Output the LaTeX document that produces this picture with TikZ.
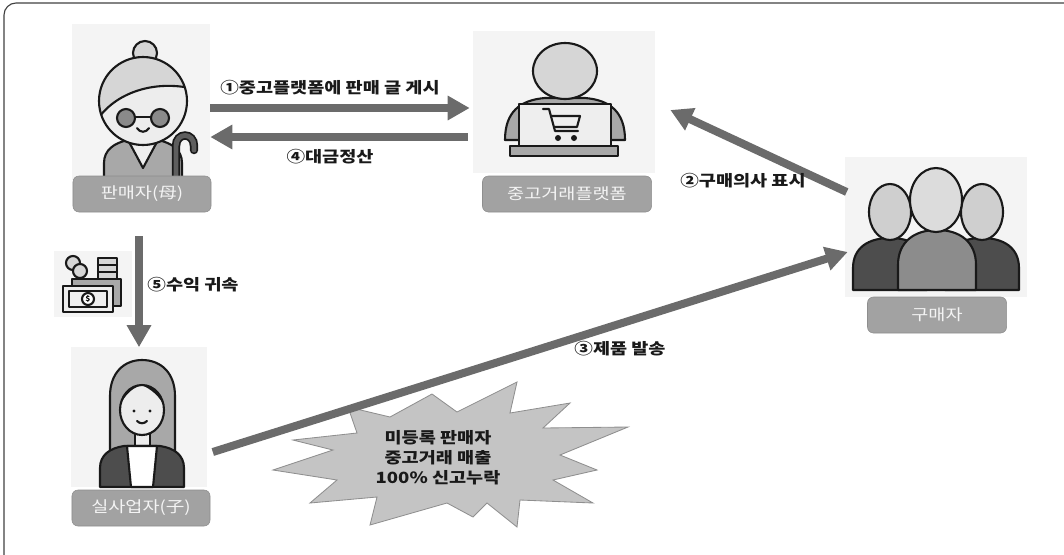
\documentclass[tikz,border=0pt]{standalone}
\usepackage{fontspec}
\setmainfont{Noto Sans CJK KR}[FakeStretch=1.2]
\usetikzlibrary{arrows.meta,calc}

\definecolor{iconbg}{HTML}{F4F4F4}
\definecolor{tagfill}{HTML}{A2A2A2}
\definecolor{tagline}{HTML}{8E8E8E}
\definecolor{tagtext}{HTML}{F4F4F4}
\definecolor{flowgray}{HTML}{6B6B6B}
\definecolor{skin}{HTML}{EDEDED}
\definecolor{hairlt}{HTML}{D6D6D6}
\definecolor{cloth}{HTML}{A8A8A8}
\definecolor{lensgray}{HTML}{8A8A8A}
\definecolor{canegray}{HTML}{5E5E5E}
\definecolor{screen}{HTML}{EEEEEE}
\definecolor{darkcloth}{HTML}{4D4D4D}
\definecolor{midcloth}{HTML}{8C8C8C}
\definecolor{headgray}{HTML}{CFCFCF}
\definecolor{headlt}{HTML}{DCDCDC}
\definecolor{starfill}{HTML}{C4C4C4}
\definecolor{starline}{HTML}{8F8F8F}

\begin{document}
\begin{tikzpicture}[x=0.025cm, y=-0.025cm,
    bg/.style={fill=iconbg, inner sep=0pt},
    namebox/.style={draw=tagline, fill=tagfill, text=tagtext, rounded corners=0.15cm,
        minimum width=3.45cm, minimum height=0.9cm, inner sep=0pt,
        font=\fontsize{11}{13}\selectfont},
    flow/.style={draw=flowgray, line width=0.2cm, -{Triangle[length=0.55cm, width=0.58cm]}},
    steplabel/.style={font=\fontsize{11}{13}\selectfont\bfseries, text=black!90, inner sep=0pt},
    ico/.style={draw=black!90, line width=1.5pt, line join=round, line cap=round}]
    \useasboundingbox (0,0) rectangle (1064,554);
    % Cadre
    \draw[black!75, line width=0.8pt, rounded corners=0.3cm] (4,3) rectangle (1080,570);

    % Fonds des icones
    \node[bg, minimum width=3.45cm, minimum height=3.9cm] (seller) at (141,102) {};
    \node[bg, minimum width=4.55cm, minimum height=3.525cm] (platform) at (564,102) {};
    \node[bg, minimum width=4.55cm, minimum height=3.5cm] (buyer) at (936,227) {};
    \node[bg, minimum width=1.925cm, minimum height=1.625cm] (money) at (93,284) {};
    \node[bg, minimum width=3.375cm, minimum height=3.475cm] (daughter) at (139,417) {};

    % Vendeuse (mere)
    \draw[ico, fill=cloth] (104,178) -- (104,163) .. controls (104,150) and (114,143) .. (128,140)
        -- (158,140) .. controls (172,143) and (182,150) .. (182,163) -- (182,178) -- cycle;
    \draw[ico, fill=skin] (128,140) -- (143,168) -- (158,140);
    \draw[ico, fill=hairlt] (145,53) circle (12);
    \fill[skin] (143,101) circle (44);
    \begin{scope}
        \clip (143,101) circle (44);
        \filldraw[ico, fill=hairlt] (96,122) .. controls (112,95) and (150,80) .. (190,88)
            -- (190,50) -- (96,50) -- cycle;
    \end{scope}
    \draw[ico] (143,101) circle (44);
    \draw[ico, fill=lensgray] (126,118) circle (9) (160,118) circle (9);
    \draw[ico] (135,117) -- (151,117);
    \draw[ico] (137,128) .. controls (140,133) and (146,133) .. (149,128);
    \draw[black!90, line width=6pt, line cap=round] (176,176) -- (176,146)
        .. controls (176,132) and (194,132) .. (194,146) -- (194,150);
    \draw[canegray, line width=3.5pt, line cap=round] (176,176) -- (176,146)
        .. controls (176,132) and (194,132) .. (194,146) -- (194,150);

    % Plateforme
    \draw[ico, fill=cloth] (505,140) .. controls (505,112) and (520,100) .. (545,98)
        -- (585,98) .. controls (610,100) and (625,112) .. (625,140) -- cycle;
    \draw[ico, fill=hairlt] (565,71) ellipse (32 and 28);
    \draw[ico, fill=screen] (519,104) rectangle (611,146);
    \draw[ico, fill=cloth] (510,146) rectangle (618,156);
    \draw[ico] (543,109) -- (549,109) -- (555,131) -- (578,131);
    \draw[ico] (551,116) -- (580,116) -- (577,127) -- (554,127);
    \fill[black!90] (558,138) circle (3) (574,138) circle (3);

    % Acheteurs
    \draw[ico, fill=darkcloth] (853,290) -- (853,268) .. controls (853,248) and (868,238) .. (890,238)
        .. controls (912,238) and (927,248) .. (927,268) -- (927,290) -- cycle;
    \draw[ico, fill=darkcloth] (945,290) -- (945,268) .. controls (945,248) and (960,238) .. (982,238)
        .. controls (1004,238) and (1019,248) .. (1019,268) -- (1019,290) -- cycle;
    \draw[ico, fill=headgray] (890,212) ellipse (21 and 28);
    \draw[ico, fill=headgray] (982,212) ellipse (21 and 28);
    \draw[ico, fill=midcloth] (898,290) -- (898,265) .. controls (898,242) and (914,230) .. (937,230)
        .. controls (960,230) and (976,242) .. (976,265) -- (976,290) -- cycle;
    \draw[ico, fill=headlt] (936,200) ellipse (26 and 32);

    % Argent
    \draw[ico, fill=hairlt] (98,258) rectangle (117,280);
    \draw[ico] (98,265) -- (117,265) (98,272) -- (117,272);
    \draw[ico, fill=hairlt] (73,263) circle (7);
    \draw[ico, fill=hairlt] (80,271) circle (7);
    \draw[ico, fill=cloth] (72,279) rectangle (121,306);
    \draw[ico, fill=screen] (63,286) rectangle (113,312);
    \draw[ico] (69,291) rectangle (107,307);
    \draw[ico, fill=white] (88,299) circle (6);
    \node[font=\tiny\bfseries, inner sep=0pt] (dollar) at (88,299) {\$};

    % Fille
    \draw[ico, fill=cloth] (110,466) -- (110,396) .. controls (110,373) and (124,360) .. (142,360)
        .. controls (161,360) and (175,373) .. (175,396) -- (175,466) -- cycle;
    \draw[ico, fill=skin] (135,430) rectangle (150,448);
    \fill[skin] (142,410) ellipse (22 and 25);
    \begin{scope}
        \clip (142,410) ellipse (22 and 25);
        \filldraw[ico, fill=cloth] (118,408) .. controls (124,392) and (134,386) .. (142,384)
            .. controls (151,388) and (161,395) .. (166,408) -- (166,380) -- (118,380) -- cycle;
    \end{scope}
    \draw[ico] (142,410) ellipse (22 and 25);
    \fill[black!90] (134,411) circle (1.6) (150,411) circle (1.6);
    \draw[ico] (137,421) .. controls (140,424) and (144,424) .. (147,421);
    \draw[ico, fill=darkcloth] (100,487) -- (100,468) .. controls (100,455) and (110,448) .. (124,446)
        -- (160,446) .. controls (174,448) and (184,455) .. (184,468) -- (184,487) -- cycle;
    \draw[ico, fill=white] (127,446) -- (157,446) -- (153,487) -- (131,487) -- cycle;

    % Etiquettes
    \node[namebox] (sellertag) at (142,194) {판매자(母)};
    \node[namebox, minimum width=4.225cm] (platformtag) at (567,194) {중고거래플랫폼};
    \node[namebox, minimum width=3.475cm] (buyertag) at (937,315) {구매자};
    \node[namebox] (daughtertag) at (141,508) {실사업자(子)};

    % Avertissement
    \draw[starline, fill=starfill, line width=0.6pt] (273,470) -- (333,450) -- (293,440) -- (357,433)
        -- (348,407) -- (390,417) -- (432,394) -- (457,412) -- (517,382) -- (510,413) -- (570,403)
        -- (543,428) -- (628,427) -- (560,455) -- (597,470) -- (553,480) -- (593,503) -- (520,500)
        -- (517,527) -- (487,503) -- (473,517) -- (447,503) -- (370,525) -- (377,497) -- (310,503)
        -- (337,480) -- cycle;
    \node[steplabel, align=center, font=\fontsize{11}{14.2}\selectfont\bfseries] (warn) at (438,458)
        {미등록 판매자\\중고거래 매출\\100\% 신고누락};

    % Flux
    \draw[flow] ($(seller.east)+(0,6)$) -- ($(platform.west)+(-3,6)$);
    \draw[flow] ($(platform.west)+(-5,35)$) -- ($(seller.east)+(0,35)$);
    \draw[flow] ($(buyer.west)+(2,-35)$) -- ($(platform.east)+(15,8)$);
    \draw[flow] ($(daughter.east)+(6,35)$) -- ($(buyer.west)+(3,25)$);
    \draw[flow] ($(sellertag.south)+(-3,24)$) -- (daughter.north);

    % Libelles
    \node[steplabel] (post) at (330,88) {①중고플랫폼에 판매 글 게시};
    \node[steplabel] (settle) at (330,157) {④대금정산};
    \node[steplabel] (intent) at (743,181) {②구매의사 표시};
    \node[steplabel] (ship) at (620,349) {③제품 발송};
    \node[steplabel] (profit) at (193,285) {⑤수익 귀속};
\end{tikzpicture}
\end{document}
